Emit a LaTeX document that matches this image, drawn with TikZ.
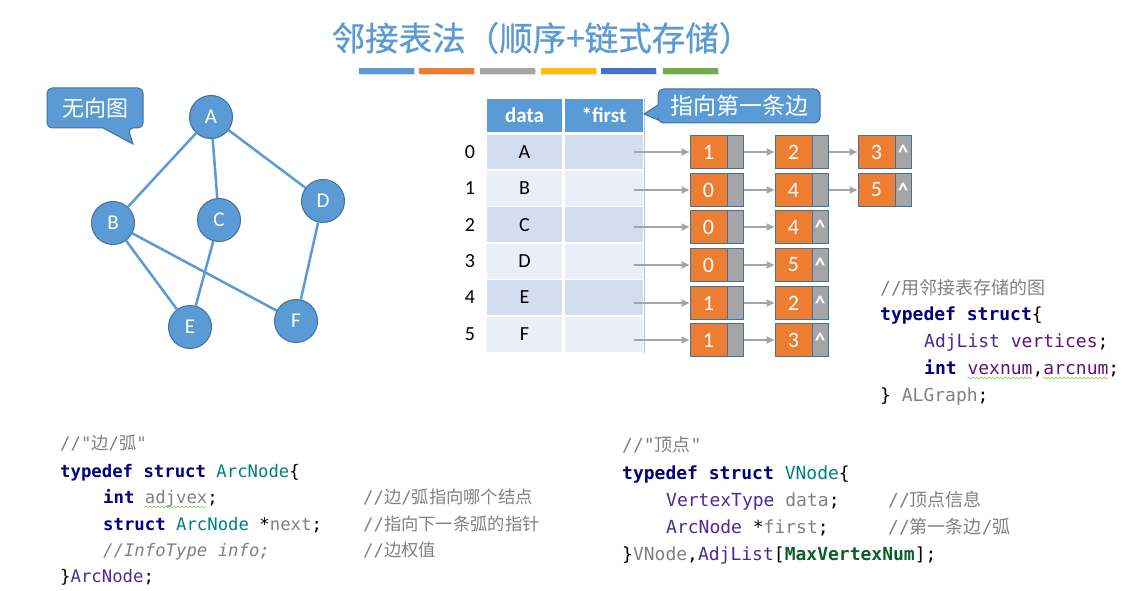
\documentclass[tikz,border=0pt]{standalone}
\usepackage{fontspec}
\setmainfont{Carlito}
\setmonofont{DejaVu Sans Mono}
\newfontfamily\cjk{Noto Sans CJK SC}
\newfontfamily\cjkt[FakeBold=0.7]{Noto Sans CJK SC}
\usetikzlibrary{arrows.meta,decorations.pathmorphing,shadows}
\definecolor{mblue}{HTML}{5B9BD5}
\definecolor{dblue}{HTML}{41719C}
\definecolor{morange}{HTML}{ED7D31}
\definecolor{mgray}{HTML}{A5A5A5}
\definecolor{myellow}{HTML}{FFC000}
\definecolor{mnavy}{HTML}{4472C4}
\definecolor{mgreen}{HTML}{70AD47}
\definecolor{rowA}{HTML}{D2DEEF}
\definecolor{rowB}{HTML}{EAEFF7}
\definecolor{kw}{HTML}{000080}
\definecolor{cmt}{HTML}{808080}
\definecolor{cteal}{HTML}{008080}
\definecolor{ctype}{HTML}{4A2C91}
\definecolor{cfield}{HTML}{660E7A}
\definecolor{cdgreen}{HTML}{0B5E2B}
\definecolor{wavy}{HTML}{8FCB6A}
\definecolor{tline}{HTML}{B8C4D6}
\newcommand{\kw}[1]{{\bfseries\color{kw}#1}}
\newcommand{\cm}[1]{{\color{cmt}#1}}
\begin{document}
\begin{tikzpicture}[x=1pt,y=-1pt,
  gnode/.style={circle,fill=mblue,draw=dblue,line width=1pt,minimum size=43pt,inner sep=0pt,text=white,font=\fontsize{21}{25}\selectfont},
  gedge/.style={mblue,line width=2.5pt},
  hcell/.style={rectangle,fill=mblue,draw=white,line width=1.5pt,minimum height=34pt,inner sep=0pt,text=white,font=\fontsize{21}{25}\selectfont\bfseries},
  cell/.style={rectangle,draw=white,line width=1.5pt,minimum height=36.5pt,inner sep=0pt,font=\fontsize{20}{24}\selectfont},
  idx/.style={inner sep=0pt,font=\fontsize{20}{24}\selectfont},
  onode/.style={rectangle,fill=morange,draw=dblue,line width=1pt,minimum width=37pt,minimum height=33pt,inner sep=0pt,text=white,font=\fontsize{22}{26}\selectfont},
  gpart/.style={rectangle,fill=mgray,draw=dblue,line width=1pt,minimum width=16pt,minimum height=33pt,inner sep=0pt,text=white,font=\fontsize{21}{25}\selectfont\bfseries},
  arr/.style={mgray,line width=2pt,-{Triangle[length=8pt,width=7pt]}},
  callout/.style={fill=mblue,draw=dblue,line width=1pt},
  codeA/.style={anchor=base west,inner sep=0pt,font=\ttfamily\fontsize{17.3}{20}\selectfont},
  codeB/.style={anchor=base west,inner sep=0pt,font=\ttfamily\fontsize{18}{21}\selectfont},
  wave/.style={wavy,line width=0.7pt,decorate,decoration={snake,amplitude=0.9pt,segment length=4pt}},
  bar/.style={drop shadow={shadow xshift=1pt,shadow yshift=-1.2pt,opacity=0.25}}
]
\useasboundingbox (0,0) rectangle (1128,591);

% title
\node[text=mblue,inner sep=0pt,font=\cjkt\fontsize{33.5}{38}\selectfont] (title) at (542,38) {邻接表法（顺序+链式存储）};
\path[bar,fill=mblue]   (359,68) rectangle (414,74);
\path[bar,fill=morange] (419,68) rectangle (474,74);
\path[bar,fill=mgray]   (480,68) rectangle (535,74);
\path[bar,fill=myellow] (541,68) rectangle (596,74);
\path[bar,fill=mnavy]   (601,68) rectangle (656,74);
\path[bar,fill=mgreen]  (663,68) rectangle (718,74);

% callout: undirected graph
\path[callout,rounded corners=5pt] (47,88) -- (143,88) -- (143,128) -- (128,128) [sharp corners] -- (133,144) -- (103,128) [rounded corners=5pt] -- (47,128) -- cycle;
\node[text=white,font=\cjk\fontsize{22}{26}\selectfont] (cg) at (95,108) {无向图};

% graph
\node[gnode] (A) at (211,117) {A};
\node[gnode] (B) at (113,223) {B};
\node[gnode] (C) at (219,220) {C};
\node[gnode] (D) at (323,201) {D};
\node[gnode] (E) at (190,327) {E};
\node[gnode] (F) at (296,321) {F};
\draw[gedge] (A) -- (B);
\draw[gedge] (A) -- (C);
\draw[gedge] (A) -- (D);
\draw[gedge] (B) -- (E);
\draw[gedge] (B) -- (F);
\draw[gedge] (C) -- (E);
\draw[gedge] (D) -- (F);

% table
\node[hcell,minimum width=77pt] (h1) at (524.5,115.5) {data};
\node[hcell,minimum width=80pt] (h2) at (604,115.5) {*first};
\foreach \i/\y/\l/\c in {0/152.5/A/rowA,1/188.5/B/rowB,2/225/C/rowA,3/261/D/rowB,4/297.5/E/rowA,5/334/F/rowB}{
  \node[cell,fill=\c,minimum width=77pt] (d\i) at (524.5,\y) {\l};
  \node[cell,fill=\c,minimum width=80pt] (f\i) at (604,\y) {};
  \node[idx] (i\i) at (470,\y) {\i};
}
\draw[tline,line width=0.8pt] (h2.north east) -- (f5.south east);

% callout: first edge
\path[callout,rounded corners=6pt] (658,105) -- (658,89) -- (820,89) -- (820,123) -- (658,123) [sharp corners] -- (658,120) -- (644,114) -- (658,105);
\node[text=white,font=\cjk\fontsize{23}{27}\selectfont] (cf) at (739,106) {指向第一条边};

% adjacency lists
% row 0
\node[onode] (n00) at (708.5,152) {1}; \node[gpart] (g00) at (735,152) {};
\node[onode] (n01) at (793.5,152) {2}; \node[gpart] (g01) at (820,152) {};
\node[onode] (n02) at (876.5,152) {3}; \node[gpart] (g02) at (903,152) {\textasciicircum};
% row 1
\node[onode] (n10) at (708.5,190) {0}; \node[gpart] (g10) at (735,190) {};
\node[onode] (n11) at (793.5,190) {4}; \node[gpart] (g11) at (820,190) {};
\node[onode] (n12) at (876.5,190) {5}; \node[gpart] (g12) at (903,190) {\textasciicircum};
% row 2
\node[onode] (n20) at (708.5,227) {0}; \node[gpart] (g20) at (735,227) {};
\node[onode] (n21) at (793.5,227) {4}; \node[gpart] (g21) at (820,227) {\textasciicircum};
% row 3
\node[onode] (n30) at (708.5,265) {0}; \node[gpart] (g30) at (735,265) {};
\node[onode] (n31) at (793.5,265) {5}; \node[gpart] (g31) at (820,265) {\textasciicircum};
% row 4
\node[onode] (n40) at (708.5,303) {1}; \node[gpart] (g40) at (735,303) {};
\node[onode] (n41) at (793.5,303) {2}; \node[gpart] (g41) at (820,303) {\textasciicircum};
% row 5
\node[onode] (n50) at (708.5,340) {1}; \node[gpart] (g50) at (735,340) {};
\node[onode] (n51) at (793.5,340) {3}; \node[gpart] (g51) at (820,340) {\textasciicircum};

\foreach \i in {0,...,5}{
  \draw[arr] ([xshift=-11pt]f\i.east |- n\i0.west) -- (n\i0.west);
  \draw[arr] (g\i0.east) -- (n\i1.west);
}
\draw[arr] (g01.east) -- (n02.west);
\draw[arr] (g11.east) -- (n12.west);

% code: ALGraph
\node[codeB] (r1) at (880,294) {\cm{//{\cjk 用邻接表存储的图}}};
\node[codeB] (r2) at (880,320) {\kw{typedef struct}\{};
\node[codeB] (r3) at (924,347) {{\color{ctype}AdjList} {\color{cfield}vertices};};
\node[codeB] (r4) at (924,374) {\kw{int} {\color{cfield}vexnum},{\color{cfield}arcnum};};
\node[codeB] (r5) at (880,401) {\} \cm{ALGraph};};
\draw[wave] ([xshift=43.4pt,yshift=-4pt]r4.base west) -- ([xshift=108.4pt,yshift=-4pt]r4.base west);
\draw[wave] ([xshift=119.2pt,yshift=-4pt]r4.base west) -- ([xshift=184.2pt,yshift=-4pt]r4.base west);

% code: ArcNode
\node[codeA] (a1) at (60,449) {\cm{//"{\cjk 边}/{\cjk 弧}"}};
\node[codeA] (a2) at (60,477) {\kw{typedef struct} {\color{cteal}ArcNode}\{};
\node[codeA] (a3) at (103,503) {\kw{int} \cm{adjvex};};
\node[codeA] (a4) at (103,530) {\kw{struct} {\color{cteal}ArcNode} *\cm{next};};
\node[codeA] (a5) at (103,556) {\cm{\itshape //InfoType info;}};
\node[codeA] (a6) at (60,582) {\}{\color{ctype}ArcNode};};
\node[codeA] (a3c) at (363,503) {\cm{//{\cjk 边}/{\cjk 弧指向哪个结点}}};
\node[codeA] (a4c) at (363,530) {\cm{//{\cjk 指向下一条弧的指针}}};
\node[codeA] (a5c) at (363,556) {\cm{//{\cjk 边权值}}};
\draw[wave] ([xshift=41.6pt,yshift=-4pt]a3.base west) -- ([xshift=104pt,yshift=-4pt]a3.base west);

% code: VNode
\node[codeB] (v1) at (622,451) {\cm{//"{\cjk 顶点}"}};
\node[codeB] (v2) at (622,479) {\kw{typedef struct} {\color{cteal}VNode}\{};
\node[codeB] (v3) at (666,506) {{\color{ctype}VertexType} \cm{data};};
\node[codeB] (v4) at (666,533) {{\color{ctype}ArcNode} *\cm{first};};
\node[codeB] (v5) at (622,560) {\}\cm{VNode},{\color{ctype}AdjList}[{\bfseries\color{cdgreen}MaxVertexNum}];};
\node[codeB] (v3c) at (888,506) {\cm{//{\cjk 顶点信息}}};
\node[codeB] (v4c) at (888,533) {\cm{//{\cjk 第一条边}/{\cjk 弧}}};
\end{tikzpicture}
\end{document}
